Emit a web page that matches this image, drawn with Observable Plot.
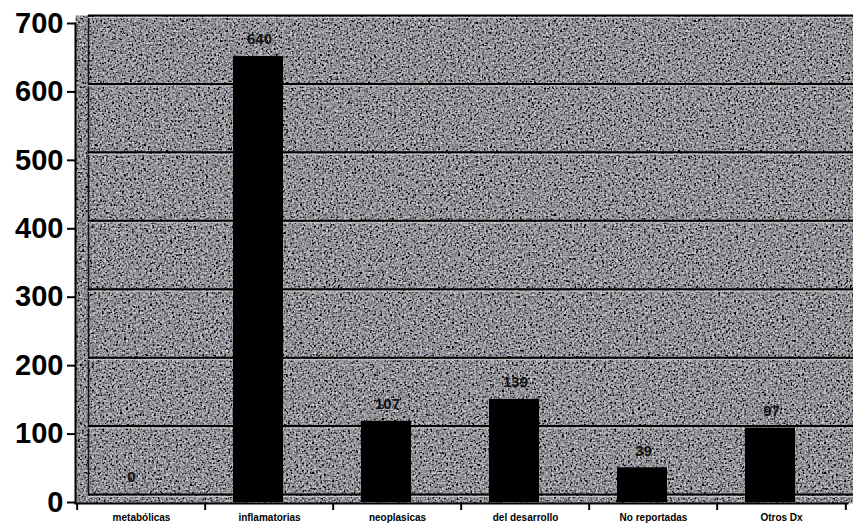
<!DOCTYPE html>
<html>
<head>
<meta charset="utf-8">
<script src="https://cdn.jsdelivr.net/npm/d3@7"></script>
<script src="https://cdn.jsdelivr.net/npm/@observablehq/plot@0.6"></script>
<style>
  html, body { margin: 0; padding: 0; background: #fff; }
</style>
</head>
<body>
<div id="chart"></div>
<script>
const categories = ["metabólicas", "inflamatorias", "neoplasicas", "del desarrollo", "No reportadas", "Otros Dx"];
const values = [0, 640, 107, 139, 39, 97];
const yTicks = [0, 100, 200, 300, 400, 500, 600, 700];

const data = categories.map((c, i) => ({category: c, value: values[i]}));
const half = 772 / 6 / 2;

const chart = Plot.plot({
  width: 853,
  height: 529,
  marginLeft: 75,
  marginRight: 6,
  marginTop: 15,
  marginBottom: 35,
  style: {fontFamily: "'Liberation Sans', Arial, sans-serif", background: "#fff", color: "#000"},
  x: {domain: categories, padding: 0, axis: null, label: null},
  y: {domain: [0, 700], axis: null, label: null},
  marks: [
    Plot.frame({fill: "#888", stroke: null, insetRight: -6, insetBottom: -9}),
    Plot.frame({anchor: "left", dx: 13, stroke: "#111", strokeWidth: 1.5}),
    Plot.ruleY(yTicks, {dx: 13, dy: 2, stroke: "#c8c8c8", strokeWidth: 1}),
    Plot.ruleY(yTicks, {dx: 13, stroke: "#000", strokeWidth: 2}),
    Plot.barY(data, {filter: d => d.value > 0, x: "category", y: "value", fill: "#000", insetLeft: 28, insetRight: 50, insetBottom: -8}),
    Plot.text(data, {x: "category", y: "value", text: d => String(d.value), dx: -10, dy: -17, fontSize: 15, fontWeight: "bold", fill: "#111"}),
    Plot.frame({anchor: "left", dy: 8, stroke: "#000", strokeWidth: 2}),
    Plot.frame({anchor: "bottom", dy: 9, stroke: "#000", strokeWidth: 2}),
    Plot.axisY(yTicks, {tickSize: 8, tickPadding: 4, dy: 8, fontSize: 29, fontWeight: "bold", strokeWidth: 2, label: null}),
    Plot.axisX(categories, {tickSize: 7, tickFormat: () => "", dx: -half, dy: 9, strokeWidth: 2, label: null}),
    Plot.axisX([categories[categories.length - 1]], {tickSize: 7, tickFormat: () => "", dx: half, dy: 9, strokeWidth: 2, label: null}),
    Plot.axisX(categories, {tickSize: 0, tickPadding: 19, fontSize: 10, fontWeight: "bold", label: null})
  ]
});

document.getElementById("chart").appendChild(chart);

const svg = d3.select(chart);
svg.insert("defs", ":first-child").html(`
  <filter id="grain" x="0" y="0" width="100%" height="100%">
    <feTurbulence type="fractalNoise" baseFrequency="0.5" numOctaves="3" seed="7" result="n"/>
    <feColorMatrix in="n" type="matrix" values="0.75 0.75 0.75 0 -0.85  0.75 0.75 0.75 0 -0.85  0.75 0.75 0.75 0 -0.83  0 0 0 0 1" result="g"/>
    <feComposite in="g" in2="SourceGraphic" operator="in"/>
  </filter>`);
const frames = svg.selectAll("[aria-label=frame]").nodes();
if (frames.length) d3.select(frames[0]).attr("filter", "url(#grain)");
</script>
</body>
</html>
